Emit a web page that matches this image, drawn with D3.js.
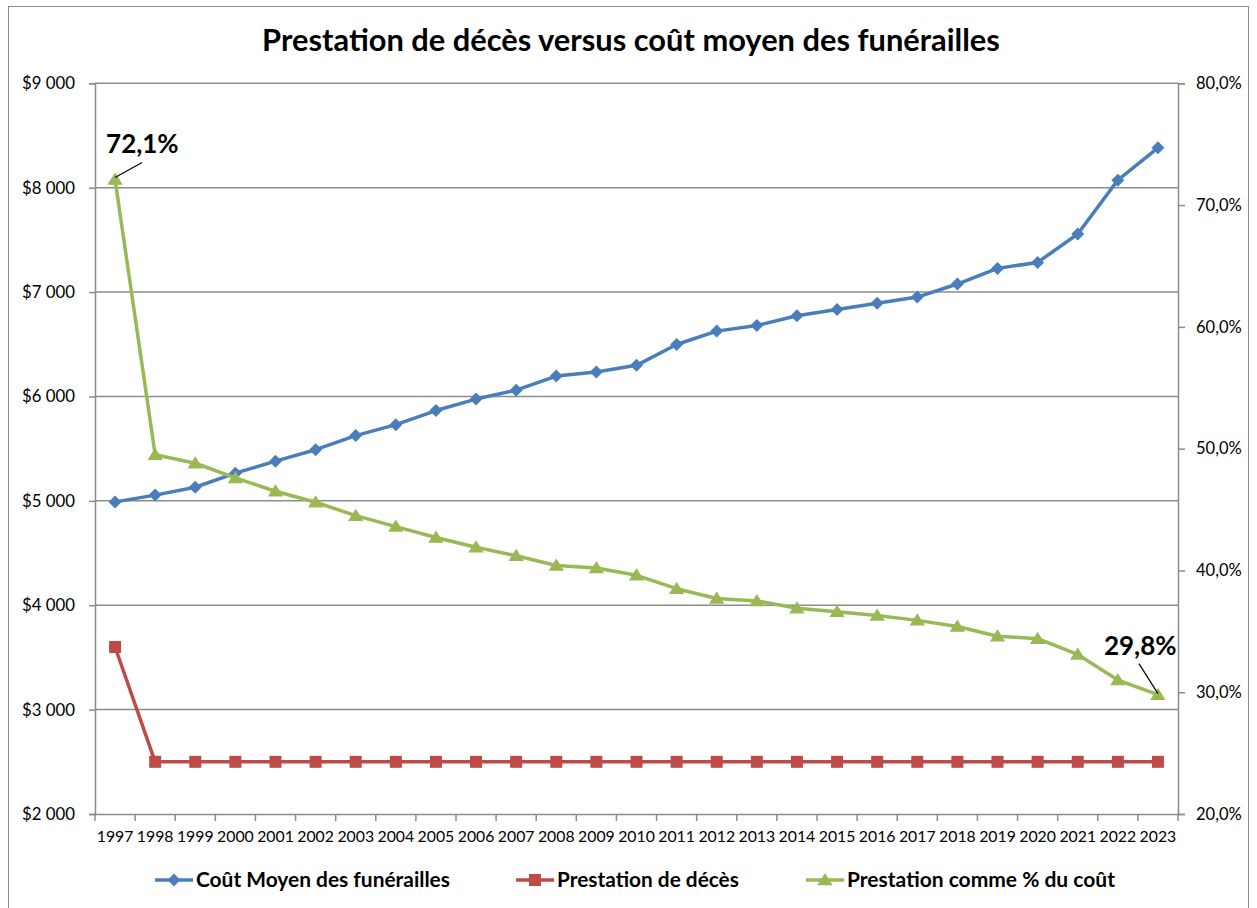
<!DOCTYPE html>
<html><head><meta charset="utf-8">
<script src="https://cdn.jsdelivr.net/npm/d3@7/dist/d3.min.js"></script>
<style>
html,body{margin:0;padding:0;background:#fff;}
svg{display:block;font-family:Lato,"Open Sans",sans-serif;}
</style></head>
<body>
<svg id="chart" width="1257" height="908"></svg>
<script>
const years = ["1997","1998","1999","2000","2001","2002","2003","2004","2005","2006","2007","2008","2009","2010","2011","2012","2013","2014","2015","2016","2017","2018","2019","2020","2021","2022","2023"];
const coutMoyen = [4990,5055,5130,5265,5380,5490,5625,5730,5865,5975,6060,6195,6235,6298,6498,6626,6680,6773,6834,6893,6952,7077,7227,7284,7556,8072,8382];
const prestation = [3600,2500,2500,2500,2500,2500,2500,2500,2500,2500,2500,2500,2500,2500,2500,2500,2500,2500,2500,2500,2500,2500,2500,2500,2500,2500,2500];
const pctCout = [72.1,49.5,48.8,47.6,46.5,45.6,44.5,43.6,42.7,41.9,41.2,40.4,40.2,39.6,38.5,37.7,37.5,36.9,36.6,36.3,35.9,35.4,34.6,34.4,33.1,31.0,29.8];
const leftTicks = [2000,3000,4000,5000,6000,7000,8000,9000];
const rightTicks = [20,30,40,50,60,70,80];
const title = "Prestation de décès versus coût moyen des funérailles";
const seriesNames = ["Coût Moyen des funérailles","Prestation de décès","Prestation comme % du coût"];
const annotations = [{i:0, text:"72,1%"},{i:26, text:"29,8%"}];

const C = {blue:"#4A7EBB", red:"#BE4B48", green:"#98B954", grid:"#8C8C8C"};
const L = 95, R = 1178, T = 83.3, B = 814;

const svg = d3.select("#chart");
svg.append("rect").attr("x",8.5).attr("y",6.5).attr("width",1240).attr("height",920)
  .attr("fill","#fff").attr("stroke","#8C8C8C").attr("stroke-width",1);

const x = d3.scaleBand().domain(years).range([L,R]).padding(0);
const cx = d => x(d) + x.bandwidth()/2;
const yL = d3.scaleLinear().domain([2000,9000]).range([B,T]);
const yR = d3.scaleLinear().domain([20,80]).range([B,T]);

svg.append("g").selectAll("line").data(leftTicks.filter(d=>d>2000)).join("line")
  .attr("x1",L).attr("x2",R).attr("y1",d=>yL(d)).attr("y2",d=>yL(d))
  .attr("stroke",C.grid).attr("stroke-width",1.5);

const fmtL = d => "$" + String(d).replace(/(\d)(?=(\d{3})+$)/g,"$1 ");
const gL = svg.append("g").attr("transform",`translate(${L},0)`)
  .call(d3.axisLeft(yL).tickValues(leftTicks).tickFormat(fmtL).tickSize(6).tickPadding(14));
const fmtR = d => d.toFixed(1).replace(".",",") + "%";
const gR = svg.append("g").attr("transform",`translate(${R},0)`)
  .call(d3.axisRight(yR).tickValues(rightTicks).tickFormat(fmtR).tickSize(7).tickPadding(11));
const gB = svg.append("g").attr("transform",`translate(0,${B})`)
  .call(d3.axisBottom(x).tickSize(0).tickPadding(17));
const edges = years.map(d=>x(d)).concat([x(years[years.length-1])+x.bandwidth()]);
svg.append("g").selectAll("line").data(edges).join("line")
  .attr("x1",d=>d).attr("x2",d=>d).attr("y1",B).attr("y2",B+7)
  .attr("stroke",C.grid).attr("stroke-width",1.5);

[gL,gR,gB].forEach(g=>{
  g.selectAll(".domain").attr("stroke",C.grid).attr("stroke-width",1.5);
  g.selectAll(".tick line").attr("stroke",C.grid).attr("stroke-width",1.5);
  g.selectAll("text").attr("fill","#000").style("font-family","Lato, sans-serif");
});
gL.selectAll("text").style("font-size","16.8px");
gR.selectAll("text").style("font-size","16.5px");
gB.selectAll("text").style("font-size","15.8px");

const diamond = s => `M0,${-s}L${s},0L0,${s}L${-s},0Z`;
const square = s => `M${-s},${-s}H${s}V${s}H${-s}Z`;
const triangle = s => `M0,${-s}L${s*1.1},${s*0.75}L${-s*1.1},${s*0.75}Z`;

const series = [
  {vals:coutMoyen, y:yL, color:C.blue, shape:diamond(6.5)},
  {vals:prestation, y:yL, color:C.red, shape:square(6)},
  {vals:pctCout, y:yR, color:C.green, shape:triangle(7)}
];
series.forEach(s=>{
  const line = d3.line().x((d,i)=>cx(years[i])).y(d=>s.y(d));
  svg.append("path").datum(s.vals).attr("d",line).attr("fill","none")
    .attr("stroke",s.color).attr("stroke-width",3.5).attr("stroke-linejoin","round");
  svg.append("g").selectAll("path").data(s.vals).join("path")
    .attr("transform",(d,i)=>`translate(${cx(years[i])},${s.y(d)})`)
    .attr("d",s.shape).attr("fill",s.color);
});

annotations.forEach((a,k)=>{
  const px = cx(years[a.i]), py = yR(pctCout[a.i]);
  if(k===0){
    svg.append("line").attr("x1",px).attr("y1",py-2).attr("x2",px+27).attr("y2",py-17)
      .attr("stroke","#000").attr("stroke-width",1.2);
    svg.append("text").attr("x",px-9).attr("y",py-27).text(a.text)
      .style("font-weight","bold").style("font-size","26px").attr("fill","#000");
  } else {
    svg.append("line").attr("x1",px).attr("y1",py-1).attr("x2",px-19).attr("y2",py-31)
      .attr("stroke","#000").attr("stroke-width",1.2);
    svg.append("text").attr("x",px-54).attr("y",py-40).text(a.text)
      .style("font-weight","bold").style("font-size","26px").attr("fill","#000");
  }
});

const t = svg.append("text").attr("x",631).attr("y",51).attr("text-anchor","middle")
  .text(title).style("font-weight","bold").style("font-size","29px").attr("fill","#000");
const tw = t.node().getComputedTextLength();
t.style("font-size", (29*738/tw).toFixed(2)+"px");

const legX = [155, 516, 806];
const legW = [254, 182, 268];
series.forEach((s,i)=>{
  const g = svg.append("g").attr("transform",`translate(${legX[i]},880)`);
  g.append("line").attr("x1",0).attr("x2",38).attr("y1",0).attr("y2",0)
    .attr("stroke",s.color).attr("stroke-width",3.5);
  g.append("path").attr("transform","translate(19,0)").attr("d",s.shape).attr("fill",s.color);
  const tx = g.append("text").attr("x",41).attr("y",6.5).text(seriesNames[i])
    .style("font-weight","bold").style("font-size","18px").attr("fill","#000");
  const w = tx.node().getComputedTextLength();
  tx.style("font-size",(18*legW[i]/w).toFixed(2)+"px");
});
</script>
</body></html>
